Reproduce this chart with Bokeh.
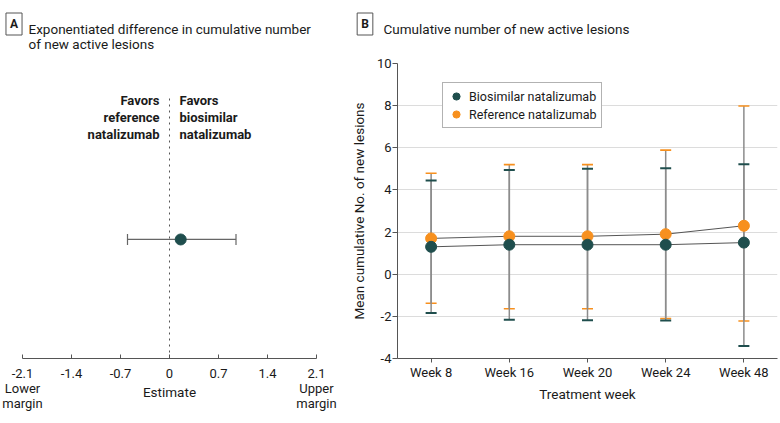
from bokeh.plotting import figure
from bokeh.models import (ColumnDataSource, Whisker, TeeHead, Label, Range1d,
                          FixedTicker, Legend, LegendItem)
from bokeh.layouts import row, column
from bokeh.embed import file_html
from bokeh.resources import INLINE

FONT = "Roboto"
TEAL = "#1f4e4d"
ORANGE = "#f7901e"
TXT = "#1a1a1a"
AXIS = "#555555"

# ---------------- Panel A data ----------------
a_title = ["Exponentiated difference in cumulative number", "of new active lesions"]
a_ticks = [-2.1, -1.4, -0.7, 0.0, 0.7, 1.4, 2.1]
a_tick_labels = ["-2.1\nLower\nmargin", "-1.4", "-0.7", "0", "0.7", "1.4", "2.1\nUpper\nmargin"]
a_estimate = [0.16]
a_lower = [-0.60]
a_upper = [0.95]
a_row = [0]
a_null = 0.0
a_left_text = ["Favors", "reference", "natalizumab"]
a_right_text = ["Favors", "biosimilar", "natalizumab"]

# ---------------- Panel B data ----------------
b_title = "Cumulative number of new active lesions"
weeks = ["Week 8", "Week 16", "Week 20", "Week 24", "Week 48"]
bio_mean = [1.3, 1.4, 1.4, 1.4, 1.5]
bio_upper = [4.45, 4.95, 5.0, 5.03, 5.22]
bio_lower = [-1.84, -2.16, -2.18, -2.2, -3.41]
ref_mean = [1.7, 1.8, 1.8, 1.9, 2.3]
ref_upper = [4.79, 5.2, 5.2, 5.89, 7.98]
ref_lower = [-1.38, -1.64, -1.64, -2.1, -2.22]
y_ticks = [-4, -2, 0, 2, 4, 6, 8, 10]
y_tick_labels = ["-4", "-2", "0", "2", "4", "6", "8", "10"]

HDR_H = 54
PLOT_H = 423 - HDR_H


def add_label(p, text, x, y, x_units="canvas", y_units="canvas", size="13.5px",
              style="normal", align="left", baseline="alphabetic", x_offset=0, **kw):
    p.add_layout(Label(x=x, y=y, x_units=x_units, y_units=y_units, text=text,
                       text_font=FONT, text_font_size=size, text_font_style=style,
                       text_align=align, text_baseline=baseline, text_color=TXT,
                       x_offset=x_offset, **kw))


def panel_box(p, letter, cx, cy):
    p.add_layout(Label(x=cx, y=cy, x_units="canvas", y_units="canvas", text=letter,
                       text_font=FONT, text_font_size="12px", text_font_style="bold",
                       text_align="center", text_baseline="middle", text_color=TXT,
                       border_line_color="#555555", border_line_width=1,
                       background_fill_color="white", padding=4))


# ================= Header (panel titles) =================
hdr = figure(width=780, height=HDR_H, output_backend="svg", toolbar_location=None,
             x_range=Range1d(0, 780), y_range=Range1d(0, HDR_H),
             x_axis_location=None, y_axis_location=None, min_border=0)
hdr.outline_line_color = None
hdr.grid.visible = False
hdr.xgrid.visible = False
hdr.ygrid.visible = False
panel_box(hdr, "A", 13.5, 23.5)
add_label(hdr, a_title[0], 28, 28)
add_label(hdr, a_title[1], 28, 43.5)
panel_box(hdr, "B", 364.5, 23.5)
add_label(hdr, b_title, 383, 28)

# ================= Panel A =================
top_border = 63 - HDR_H
pa = figure(width=340, height=PLOT_H, output_backend="svg", toolbar_location=None,
            x_range=Range1d(-2.1, 2.1), y_range=Range1d(-0.4525, 0.669),
            y_axis_location=None,
            min_border_left=22, min_border_right=24, min_border_top=top_border,
            min_border_bottom=65)
pa.outline_line_color = None
pa.grid.visible = False

ax = pa.xaxis[0]
ax.ticker = FixedTicker(ticks=a_ticks)
ax.major_label_overrides = dict(zip(a_ticks, a_tick_labels))
ax.axis_label = "Estimate"
ax.axis_label_text_font = FONT
ax.axis_label_text_font_size = "13.5px"
ax.axis_label_text_font_style = "normal"
ax.axis_label_text_color = TXT
ax.axis_label_standoff = -30
ax.major_label_text_font = FONT
ax.major_label_text_font_size = "13px"
ax.major_label_text_line_height = 1.0
ax.major_label_text_color = TXT
ax.major_label_standoff = 7
ax.major_tick_in = 4
ax.major_tick_out = 0
ax.minor_tick_line_color = None
ax.axis_line_color = AXIS
ax.major_tick_line_color = AXIS

# dotted no-difference line, from the axis up to the "Favors" captions
pa.segment(x0=[a_null], y0=[-0.4525], x1=[a_null], y1=[0.55],
           line_color=AXIS, line_dash="dotted", line_width=1)

src_a = ColumnDataSource(dict(est=a_estimate, lo=a_lower, hi=a_upper, y=a_row))
pa.add_layout(Whisker(source=src_a, base="y", lower="lo", upper="hi", dimension="width",
                      line_color="#666666", line_width=1.2,
                      lower_head=TeeHead(size=11, line_color="#666666", line_width=1.2),
                      upper_head=TeeHead(size=11, line_color="#666666", line_width=1.2)))
pa.scatter("est", "y", source=src_a, size=11, color=TEAL)

for i, (lt, rt) in enumerate(zip(a_left_text, a_right_text)):
    yy = 100 - HDR_H + 17 * i
    add_label(pa, lt, a_null, yy, x_units="data", size="13px", style="bold",
              align="right", baseline="middle", x_offset=-10)
    add_label(pa, rt, a_null, yy, x_units="data", size="13px", style="bold",
              align="left", baseline="middle", x_offset=10)

# ================= Panel B =================
xs = list(range(len(weeks)))
pb = figure(width=440, height=PLOT_H, output_backend="svg", toolbar_location=None,
            x_range=Range1d(-0.43, len(weeks) - 1 + 0.43), y_range=Range1d(-4, 10),
            min_border_left=57, min_border_right=3, min_border_top=top_border,
            min_border_bottom=65)
pb.outline_line_color = None
pb.xgrid.visible = False
pb.ygrid.grid_line_color = "#dcdcdc"
pb.ygrid.grid_line_width = 1

bx = pb.xaxis[0]
bx.ticker = FixedTicker(ticks=xs)
bx.major_label_overrides = dict(zip(xs, weeks))
bx.axis_label = "Treatment week"
bx.major_label_standoff = 2
bx.major_tick_in = 0
bx.major_tick_out = 4
bx.axis_label_standoff = 3

by = pb.yaxis[0]
by.ticker = FixedTicker(ticks=y_ticks)
by.major_label_overrides = dict(zip(y_ticks, y_tick_labels))
by.axis_label = "Mean cumulative No. of new lesions"
by.major_label_standoff = 1
by.major_tick_in = 0
by.major_tick_out = 5
by.axis_label_standoff = 7

for a in (bx, by):
    a.axis_label_text_font = FONT
    a.axis_label_text_font_size = "13.5px"
    a.axis_label_text_font_style = "normal"
    a.axis_label_text_color = TXT
    a.major_label_text_font = FONT
    a.major_label_text_font_size = "13px"
    a.major_label_text_color = TXT
    a.minor_tick_line_color = None
    a.axis_line_color = AXIS
    a.major_tick_line_color = AXIS

src_ref = ColumnDataSource(dict(x=xs, m=ref_mean, lo=ref_lower, hi=ref_upper))
src_bio = ColumnDataSource(dict(x=xs, m=bio_mean, lo=bio_lower, hi=bio_upper))

for src, col, lw in ((src_ref, ORANGE, 1.6), (src_bio, TEAL, 2)):
    pb.add_layout(Whisker(source=src, base="x", lower="lo", upper="hi", dimension="height",
                          line_color="#8c8c8c", line_width=1.5,
                          lower_head=TeeHead(size=11, line_color=col, line_width=lw),
                          upper_head=TeeHead(size=11, line_color=col, line_width=lw)))

pb.line("x", "m", source=src_ref, line_color="#555555", line_width=1)
pb.line("x", "m", source=src_bio, line_color="#555555", line_width=1)
r_ref = pb.scatter("x", "m", source=src_ref, size=11, color=ORANGE)
r_bio = pb.scatter("x", "m", source=src_bio, size=11, color=TEAL)

legend = Legend(items=[LegendItem(label="Biosimilar natalizumab", renderers=[r_bio]),
                       LegendItem(label="Reference natalizumab", renderers=[r_ref])],
                location=(45, 230), margin=0, padding=4, spacing=0,
                glyph_width=18, glyph_height=18, label_height=18, label_standoff=4,
                label_text_font=FONT, label_text_font_size="12.5px",
                label_text_color=TXT, border_line_color="#666666",
                border_line_width=1, background_fill_alpha=1)
pb.add_layout(legend)

layout = column(hdr, row(pa, pb))
open("out.html", "w").write(file_html(layout, INLINE))
